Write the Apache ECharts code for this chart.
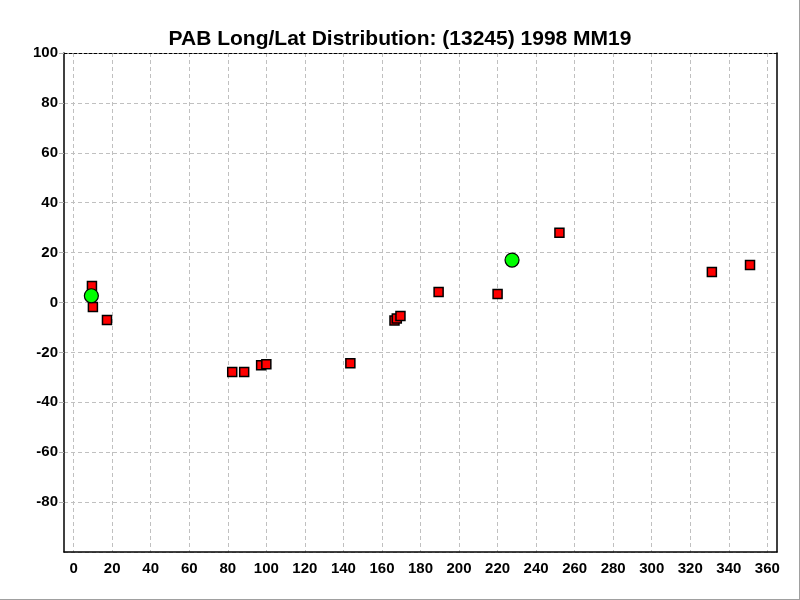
<!DOCTYPE html>
<html><head><meta charset="utf-8">
<script src="https://cdn.jsdelivr.net/npm/echarts@6/dist/echarts.min.js"></script>
<style>html,body{margin:0;padding:0;background:#fff}#c{width:800px;height:600px}</style>
</head><body><div id="c"></div>
<script>
const titleText = 'PAB Long/Lat Distribution: (13245) 1998 MM19';
const xTicks = [0,20,40,60,80,100,120,140,160,180,200,220,240,260,280,300,320,340,360];
const redLong = [9.5, 10.0, 17.3, 82.3, 88.5, 97.3, 100.0, 143.6, 166.5, 167.7, 169.6, 189.4, 220.0, 252.1, 331.2, 351.0];
const redLat  = [6.6, -1.8, -7.0, -27.9, -27.9, -25.2, -24.7, -24.3, -7.2, -6.4, -5.4, 4.2, 3.4, 28.0, 12.2, 15.0];
const greenLong = [9.2, 227.5];
const greenLat  = [2.7, 17.0];

const zip = (a, b) => a.map((v, i) => [v, b[i]]);
const font = {fontFamily: '"Liberation Sans", Arial, sans-serif', fontWeight: 'bold', color: '#000'};

const chart = echarts.init(document.getElementById('c'), null, {renderer: 'canvas'});
chart.setOption({
  animation: false,
  backgroundColor: '#fff',
  title: {
    text: titleText, left: 'center', top: 24,
    textStyle: Object.assign({fontSize: 21}, font)
  },
  grid: {left: 64, right: 23, top: 53, bottom: 48, containLabel: false},
  xAxis: [{
    type: 'value', min: -5, max: 365, position: 'bottom',
    axisLine: {show: true, onZero: false, lineStyle: {color: '#000', width: 1.5}},
    axisTick: {show: false, customValues: xTicks},
    axisLabel: Object.assign({customValues: xTicks, fontSize: 15, margin: 9}, font),
    splitLine: {show: true, lineStyle: {color: '#c0c0c0', type: [4, 3], width: 1}}
  }, {
    type: 'value', min: -5, max: 365, position: 'top',
    axisLine: {show: true, onZero: false, lineStyle: {color: '#000', type: [3, 2], width: 1}},
    axisTick: {show: false}, axisLabel: {show: false}, splitLine: {show: false}
  }],
  yAxis: [{
    type: 'value', min: -100, max: 100, interval: 20, position: 'left',
    axisLine: {show: true, onZero: false, lineStyle: {color: '#000', width: 1.5}},
    axisTick: {show: true, inside: false, length: 5, lineStyle: {color: '#b0b0b0'}},
    axisLabel: Object.assign({fontSize: 15, margin: 6, showMinLabel: false,
      formatter: v => (v === -100 ? '' : String(v))}, font),
    splitLine: {show: true, lineStyle: {color: '#c0c0c0', type: [4, 3], width: 1}}
  }, {
    type: 'value', min: -100, max: 100, interval: 20, position: 'right',
    axisLine: {show: true, onZero: false, lineStyle: {color: '#000', width: 1.5}},
    axisTick: {show: false}, axisLabel: {show: false}, splitLine: {show: false}
  }],
  graphic: [
    {type: 'line', shape: {x1: 799.5, y1: 0, x2: 799.5, y2: 600}, style: {stroke: '#a0a0a0', lineWidth: 1}, silent: true},
    {type: 'line', shape: {x1: 0, y1: 599.5, x2: 800, y2: 599.5}, style: {stroke: '#a0a0a0', lineWidth: 1}, silent: true}
  ],
  series: [{
    type: 'scatter', xAxisIndex: 0, yAxisIndex: 0,
    symbol: 'rect', symbolSize: 9,
    itemStyle: {color: '#ff0000', borderColor: '#000', borderWidth: 1.5, opacity: 1},
    data: zip(redLong, redLat), z: 3
  }, {
    type: 'scatter', xAxisIndex: 0, yAxisIndex: 0,
    symbol: 'circle', symbolSize: 14,
    itemStyle: {color: '#00ff00', borderColor: '#000', borderWidth: 1.2, opacity: 1},
    data: zip(greenLong, greenLat), z: 4
  }]
});
</script></body></html>
